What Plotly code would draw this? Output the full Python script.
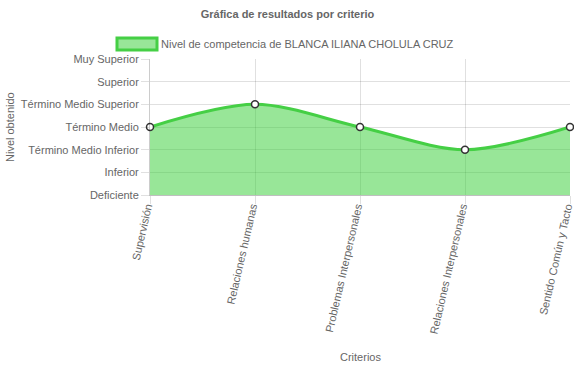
import plotly.graph_objects as go

categories = ["Supervisión", "Relaciones humanas", "Problemas Interpersonales",
              "Relaciones Interpersonales", "Sentido Común y Tacto"]
values = [3, 4, 3, 2, 3]
level_labels = ["Deficiente", "Inferior", "Término Medio Inferior", "Término Medio",
                "Término Medio Superior", "Superior", "Muy Superior"]
series_name = "Nivel de competencia de BLANCA ILIANA CHOLULA CRUZ"

LINE = "#45cf45"
FILL = "rgba(50,205,50,0.5)"
GRID = "rgba(0,0,0,0.12)"
TXT = "#666666"
FONT = "Liberation Sans, Arial, sans-serif"
FS = 11

fig = go.Figure()
fig.add_trace(go.Scatter(
    x=categories, y=values, mode="lines+markers", fill="tozeroy",
    fillcolor=FILL, line=dict(color=LINE, width=3, shape="spline", smoothing=0.9),
    marker=dict(size=7, color="white", line=dict(color="#333333", width=1.5)),
    name=series_name, showlegend=False, cliponaxis=False,
))

W, H = 574, 368
L, R, T, B = 150, 4, 59, 173

fig.update_layout(
    width=W, height=H,
    margin=dict(l=L, r=R, t=T, b=B, autoexpand=False),
    paper_bgcolor="white", plot_bgcolor="white",
    font=dict(family=FONT, size=FS, color=TXT),
    title=dict(text="<b>Gráfica de resultados por criterio</b>", x=(287.5) / W, xanchor="center",
               y=1 - 14 / H, yanchor="middle", font=dict(size=FS, color=TXT)),
    xaxis=dict(showgrid=True, gridcolor=GRID, gridwidth=1, zeroline=False,
               ticks="outside", ticklen=8, tickcolor=GRID, tickangle=-77,
               ticklabelshift=-3, ticklabelstandoff=-8,
               showline=True, linecolor="rgba(0,0,0,0.25)", range=[0, len(categories) - 1],
               tickfont=dict(size=FS, color=TXT), automargin=False),
    yaxis=dict(range=[0, len(level_labels) - 1], tickmode="array",
               tickvals=list(range(len(level_labels))), ticktext=level_labels,
               showgrid=True, gridcolor=GRID, zeroline=False, ticks="outside",
               ticklen=8, tickcolor=GRID, showline=True, linecolor="rgba(0,0,0,0.2)",
               tickfont=dict(size=FS, color=TXT), automargin=False),
)

# Axis titles
fig.add_annotation(text="Criterios", xref="paper", yref="paper", x=0.5,
                   y=(195 - 357) / 136, showarrow=False, xanchor="center", yanchor="middle",
                   font=dict(size=FS, color=TXT))
fig.add_annotation(text="Nivel obtenido", xref="paper", yref="paper", x=(10 - L) / 420,
                   y=0.5, showarrow=False, textangle=-90, xanchor="center", yanchor="middle",
                   font=dict(size=FS, color=TXT))

# Legend (Chart.js style box)
def px(x):
    return (x - L) / 420

def py(y):
    return (195 - y) / 136

fig.add_shape(type="rect", xref="paper", yref="paper", x0=px(117), x1=px(157),
              y0=py(50), y1=py(38), fillcolor=FILL, line=dict(color=LINE, width=3))
fig.add_annotation(text=series_name, xref="paper", yref="paper", x=px(159), y=py(44),
                   showarrow=False, xanchor="left", yanchor="middle",
                   font=dict(size=FS, color=TXT))

fig.write_html("out.html", config={"displayModeBar": False},
               post_script="document.body.style.margin='0';document.body.style.overflow='hidden';")
